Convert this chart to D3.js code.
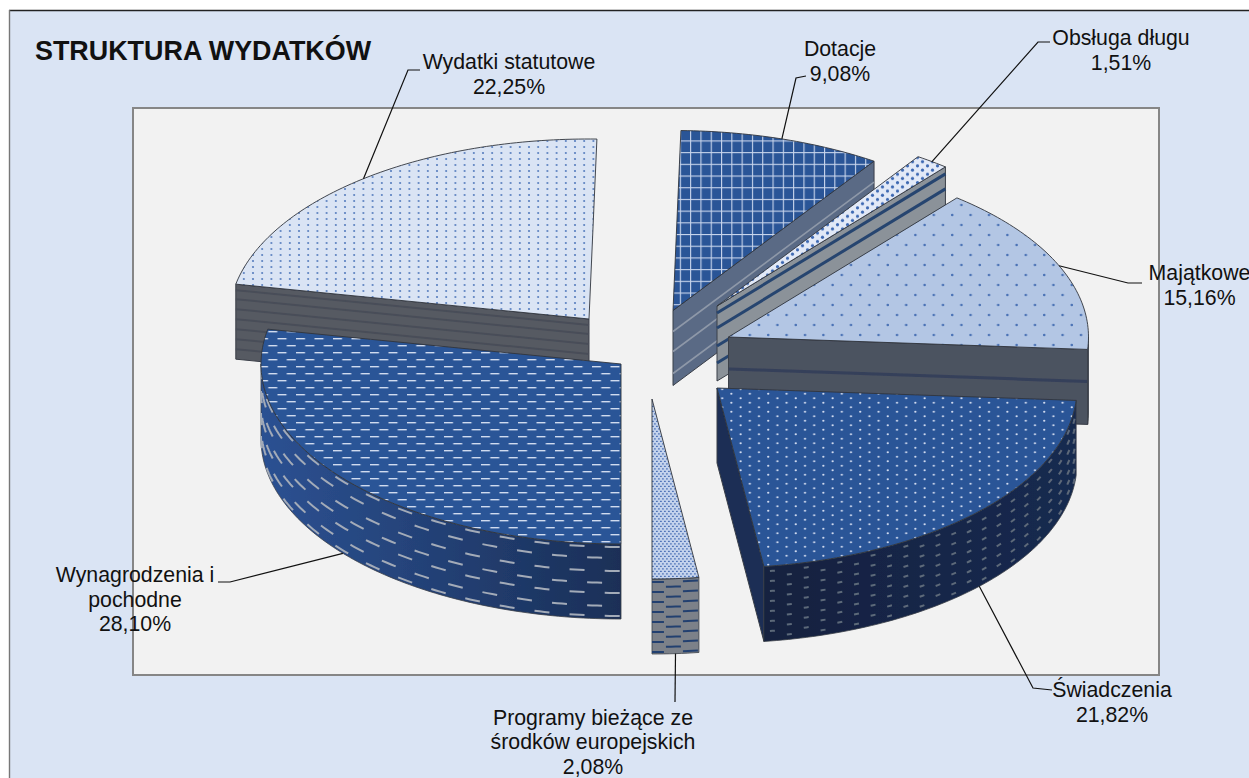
<!DOCTYPE html>
<html lang="pl">
<head>
<meta charset="utf-8">
<title>Struktura wydatków</title>
<script src="https://cdn.jsdelivr.net/npm/d3@7"></script>
<style>
html,body{margin:0;padding:0;background:#fff;overflow:hidden}
svg{display:block}
text{font-family:"Liberation Sans",Arial,sans-serif;fill:#111}
</style>
</head>
<body>
<svg id="chart" width="1249" height="778"></svg>
<script>
const categories = ["Dotacje","Obsługa długu","Majątkowe","Świadczenia","Programy bieżące ze środków europejskich","Wynagrodzenia i pochodne","Wydatki statutowe"];
const values = [9.08,1.51,15.16,21.82,2.08,28.10,22.25];
const labelLines = [["Dotacje"],["Obsługa długu"],["Majątkowe"],["Świadczenia"],["Programy bieżące ze","środków europejskich"],["Wynagrodzenia i","pochodne"],["Wydatki statutowe"]];
const titleText = "STRUKTURA WYDATKÓW";

// ---- layout ----
const W = 1249, H = 778;
const rad = d3.scaleLinear().domain([0,360]).range([0,2*Math.PI]);
const RX = 360, RY = 180, DEPTH = 75;
const sx = d3.scaleLinear().domain([-1,1]).range([-RX,RX]);
const sy = d3.scaleLinear().domain([-1,1]).range([-RY,RY]);
const pieCentre = [670,345];
const explodeX = [3,47,58.5,47,-18,-49,-81];
const explodeY = [-34.5,-39,-8,43,54,19,-26];
const startDeg = 1.26;
const drawOrder = [6,5,0,1,2,3,4];
const font = 21.3, lineH = 24.7;
const labelX = [840,1121,1199.5,1112,593,135,509];
const labelY = [56,45,280,697,724.5,582,69];
const leaderElbow = [[[796,78],[806,76]],[[1038,42],[1050,42]],[[1128,283],[1142,283]],[[1033,688],[1052,690]],[[675,702]],[[230,582],[218,582]],[[408,70],[420,70]]];

// ---- styles ----
const topStyle = [
 {bg:"#2b5597",kind:"grid",w:10.3,h:11.7,c:"#c8d5ec"},
 {bg:"#e2e9f7",kind:"dots",w:10,h:8.4,pts:[[2.5,2.1],[7.5,6.3]],r:1.6,c:"#3d68b2"},
 {bg:"#b3c6e4",kind:"dots",w:18.4,h:20,pts:[[4.6,5],[13.8,15]],r:1.3,c:"#4a72b5"},
 {bg:"#2b5597",kind:"dots",w:18.4,h:9,pts:[[4.6,2.25],[13.8,6.75]],r:1.1,c:"#d5dff2"},
 {bg:"#c3d2ec",kind:"dash",w:4,h:5,pts:[[0,.8],[2,3.3]],dw:1.8,dh:1.2,c:"#4f74b8"},
 {bg:"#2b5597",kind:"dash",w:18.5,h:14,pts:[[0,2],[9.25,9]],dw:9,dh:1.4,c:"#d0dbef"},
 {bg:"#dae4f4",kind:"dots",w:9.2,h:6,pts:[[4.6,3]],r:1,c:"#5078bc"}
];
const edgeStyle = [
 {fill:"#5a6a85",lines:[21,41,63],lc:"#8e98a8",lw:1.6},
 {fill:"#8b9299",lines:[7,22,40,57],lc:"#27456f",lw:3},
 {fill:"#4b5260",lines:[32],lc:"#35405a",lw:3},
 {fill:"#1b2d54",lines:[],lc:"none",lw:0},
 null,null,
 {fill:"#575a62",lines:[6,15,25,35,45,55,65],lc:"#484e59",lw:2}
];
const outerStyle = [
 null,null,
 {left:"#4b5260",right:"#454c58",marks:null},
 {left:"#13213f",right:"#182a50",anchorEnd:true,marks:{step:17,dash:5,rows:[5,15,25,35,45,55,65],rows2:[10,20,30,40,50,60,70],c:"#5d6979",w:2}},
 {left:"#7b8189",right:"#7b8189",anchorEnd:false,marks:{step:17,dash:15,rows:[3,13,23,33,43,53,63,73],rows2:[8,18,28,38,48,58,68],c:"#24406f",w:2}},
 {left:"#2c5192",right:"#1a2f57",anchorEnd:false,marks:{step:17.6,dash:15,rows:[3,27,49,72],rows2:[14,39,62],c:"#a3abb8",w:2}},
 null
];

// ---- drawing ----
const svg = d3.select("#chart");
const defs = svg.append("defs");
defs.append("filter").attr("id","soft").attr("x","-5%").attr("y","-5%").attr("width","110%").attr("height","110%")
  .append("feGaussianBlur").attr("stdDeviation",0.35);

svg.append("rect").attr("x",9).attr("y",10).attr("width",W).attr("height",H).attr("fill","#dae4f4");
svg.append("line").attr("x1",9).attr("x2",W).attr("y1",10.5).attr("y2",10.5).attr("stroke","#222").attr("stroke-width",1.4);
svg.append("line").attr("x1",9.5).attr("x2",9.5).attr("y1",10).attr("y2",H).attr("stroke","#777").attr("stroke-width",1.4);
svg.append("rect").attr("x",133).attr("y",108).attr("width",1026).attr("height",567)
   .attr("fill","#f2f2f2").attr("stroke","#868686").attr("stroke-width",2);

// top-face fill patterns
topStyle.forEach((s,i)=>{
  const p = defs.append("pattern").attr("id","top"+i).attr("patternUnits","userSpaceOnUse").attr("width",s.w).attr("height",s.h);
  p.append("rect").attr("width",s.w).attr("height",s.h).attr("fill",s.bg);
  if(s.kind==="grid"){
    p.append("rect").attr("x",0).attr("y",0).attr("width",1.1).attr("height",s.h).attr("fill",s.c);
    p.append("rect").attr("x",0).attr("y",0).attr("width",s.w).attr("height",1.1).attr("fill",s.c);
  } else if(s.kind==="dots"){
    s.pts.forEach(q=>p.append("circle").attr("cx",q[0]).attr("cy",q[1]).attr("r",s.r).attr("fill",s.c));
  } else {
    s.pts.forEach(q=>{
      p.append("rect").attr("x",q[0]).attr("y",q[1]).attr("width",s.dw).attr("height",s.dh).attr("fill",s.c);
    });
  }
});

const arcs = d3.pie().sort(null).value(d=>d)
  .startAngle(rad(startDeg)).endAngle(rad(startDeg+360))(values);

const project = (tip,a,z=0)=>[tip[0]+sx(Math.sin(a)),tip[1]-sy(Math.cos(a))+z];
const line = d3.line();
const arcPts = (tip,a0,a1,z=0)=>{
  const n = Math.max(2,Math.ceil((a1-a0)/rad(1)));
  return d3.range(n+1).map(i=>project(tip,a0+(a1-a0)*i/n,z));
};
const tips = arcs.map((d,i)=>[pieCentre[0]+explodeX[i],pieCentre[1]+explodeY[i]]);
const EDGE_STROKE = "#3a3f48";
const pieLayer = svg.append("g").attr("filter","url(#soft)");

drawOrder.forEach(i=>{
  const d = arcs[i], tip = tips[i], a0 = d.startAngle, a1 = d.endAngle;
  const g = pieLayer.append("g").attr("class","slice").attr("data-name",categories[i]);

  // radial side wall
  const es = edgeStyle[i];
  const wallAngle = Math.sin(a1)>0.01 ? a1 : (Math.sin(a0)<-0.01 ? a0 : null);
  const drawWall = (ang)=>{
    if(!es) return;
    const o = project(tip,ang);
    g.append("path").attr("d",line([tip,o,[o[0],o[1]+DEPTH],[tip[0],tip[1]+DEPTH]])+"Z")
      .attr("fill",es.fill).attr("stroke",EDGE_STROKE).attr("stroke-width",1);
    g.selectAll(null).data(es.lines).join("line")
      .attr("x1",tip[0]).attr("y1",z=>tip[1]+z).attr("x2",o[0]).attr("y2",z=>o[1]+z)
      .attr("stroke",es.lc).attr("stroke-width",es.lw);
  };
  if(i===6) drawWall(a0);
  else if(wallAngle!==null) drawWall(wallAngle);

  // outer curved wall, only where it faces the viewer
  const oa0 = Math.max(a0,rad(90)), oa1 = Math.min(a1,rad(270));
  const os = outerStyle[i];
  if(oa1>oa0 && os){
    const gid = "outer"+i;
    const lg = defs.append("linearGradient").attr("id",gid);
    lg.append("stop").attr("offset","0").attr("stop-color",os.left);
    lg.append("stop").attr("offset","1").attr("stop-color",os.right);
    const pts = arcPts(tip,oa0,oa1).concat(arcPts(tip,oa0,oa1,DEPTH).reverse());
    g.append("path").attr("d",line(pts)+"Z").attr("fill",`url(#${gid})`)
      .attr("stroke",EDGE_STROKE).attr("stroke-width",.8);
    if(os.marks){
      // wall texture laid out by length along the projected rim
      const m = os.marks;
      const n = 400, angs = d3.range(n+1).map(k=>oa0+(oa1-oa0)*k/n);
      const rim = angs.map(a=>project(tip,a));
      let total = 0;
      const cum = rim.map((p,k)=> k ? (total+=Math.hypot(p[0]-rim[k-1][0],p[1]-rim[k-1][1])) : 0);
      const angleAt = d3.scaleLinear().domain(cum).range(angs);
      const pos = s => os.anchorEnd ? total-s : s;
      d3.range(0,Math.floor(total/m.step)+1).forEach(k=>{
        const rows = k%2 ? m.rows2 : m.rows;
        const s0 = k*m.step+(m.step-m.dash)/2, s1 = Math.min(s0+m.dash,total);
        if(s1-s0<2) return;
        const p0 = angleAt(Math.min(pos(s0),pos(s1))), p1 = angleAt(Math.max(pos(s0),pos(s1)));
        rows.forEach(z=>{
          g.append("path").attr("d",line(arcPts(tip,p0,p1,z))).attr("fill","none")
            .attr("stroke",m.c).attr("stroke-width",m.w);
        });
      });
    }
  }

  // top face
  const top = [tip].concat(arcPts(tip,a0,a1));
  g.append("path").attr("d",line(top)+"Z").attr("fill",`url(#top${i})`)
    .attr("stroke","#30343c").attr("stroke-width",.9);
});

// title
svg.append("text").attr("x",35).attr("y",59.5).attr("font-size",26.9).attr("font-weight","bold").text(titleText);

// leader lines, starting on the rim at each slice's middle angle
arcs.forEach((d,i)=>{
  const mid = (d.startAngle+d.endAngle)/2;
  const front = Math.cos(mid)<0 ? DEPTH : 0;
  const start = project(tips[i],mid,front);
  svg.append("path").attr("d",line([start].concat(leaderElbow[i])))
    .attr("fill","none").attr("stroke","#111").attr("stroke-width",1.2);
});

// labels
const fmt = v=>v.toFixed(2).replace(".",",")+"%";
arcs.forEach((d,i)=>{
  const t = svg.append("text").attr("text-anchor","middle").attr("font-size",font);
  labelLines[i].concat([fmt(values[i])]).forEach((s,k)=>{
    t.append("tspan").attr("x",labelX[i]).attr("y",labelY[i]+k*lineH).text(s);
  });
});
</script>
</body>
</html>
